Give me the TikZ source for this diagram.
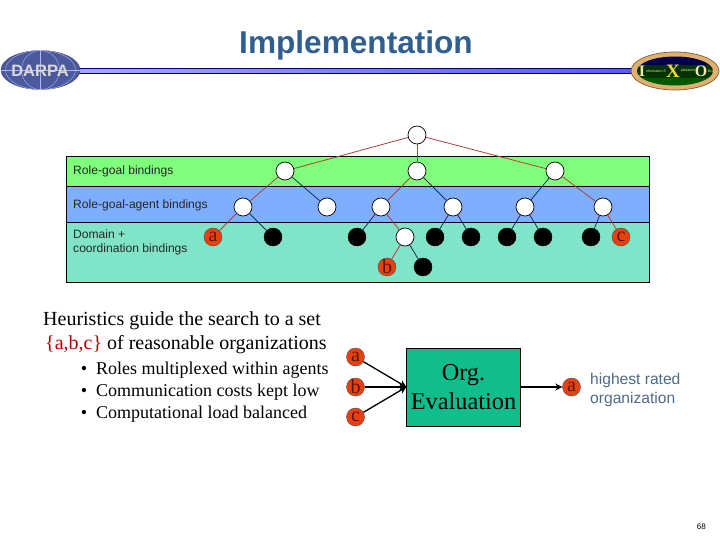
\documentclass[tikz,border=0pt]{standalone}
\usepackage{fontspec}
\setmainfont{Liberation Serif}
\newfontfamily\arialfont{Liberation Sans}
\usepackage{xcolor}
\usetikzlibrary{arrows.meta,positioning,shapes.geometric}
\definecolor{tlgreen}{HTML}{80FF7C}
\definecolor{tlblue}{HTML}{80AEFF}
\definecolor{tlteal}{HTML}{80E4C8}
\definecolor{tlred}{HTML}{E8410F}
\definecolor{tlletter}{HTML}{5A1606}
\definecolor{tledge}{HTML}{B0403A}
\definecolor{tlnavy}{HTML}{14305A}
\definecolor{tltitle}{HTML}{2F5F91}
\definecolor{tlslate}{HTML}{4F6B84}
\definecolor{tlbox}{HTML}{10BE8C}
\definecolor{tlglobe}{HTML}{4A5A9C}
\definecolor{tlring}{HTML}{E0B070}
\definecolor{tlcream}{HTML}{F2E6B0}
\tikzset{
  band/.style={rectangle, draw=black, line width=0.8pt, minimum width=582.5pt, inner sep=0pt, anchor=north west},
  bandlabel/.style={font=\arialfont\fontsize{12.1}{14}\selectfont, anchor=base west, inner sep=0pt, text=black!85},
  role/.style={circle, draw=black, fill=white, line width=0.7pt, minimum size=18pt, inner sep=0pt},
  leaf/.style={circle, draw=black, fill=black, minimum size=18pt, inner sep=0pt},
  org/.style={circle, draw=black!70, fill=tlred, minimum size=18pt, inner sep=0pt, text=tlletter,
              font=\fontsize{20}{20}\selectfont},
  redge/.style={draw=tledge, line width=0.8pt},
  bedge/.style={draw=tlnavy, line width=0.8pt},
  ar/.style={-{Stealth[length=7pt,width=7pt]}, draw=black, line width=1.3pt},
  say/.style={anchor=base west, inner sep=0pt, font=\fontsize{20}{22}\selectfont},
  point/.style={anchor=base west, inner sep=0pt, font=\fontsize{18}{20}\selectfont},
  ixobig/.style={inner sep=0pt, text=tlcream, font=\bfseries\fontsize{16}{16}\selectfont},
  ixosmall/.style={inner sep=0pt, text=tlcream, font=\arialfont\fontsize{3.5}{4}\selectfont},
}
\begin{document}
\begin{tikzpicture}[x=1pt,y=-1pt]
\useasboundingbox (0,0) rectangle (720,540);
% --- header
\node[anchor=base,inner sep=0pt,font=\arialfont\bfseries\fontsize{31.6}{34}\selectfont,text=tltitle] (title) at (356,54) {Implementation};
\node[rectangle,draw=blue!45!black,line width=1pt,left color=blue!35!white,right color=blue!65!white,
      minimum width=555pt,minimum height=5.5pt,inner sep=0pt] (rule) at (356,71) {};
% --- left logo
\node[ellipse,draw=tlglobe!70!black,fill=tlglobe,minimum width=79pt,minimum height=39pt,inner sep=0pt] (darpa) at (40.5,70) {};
\draw[white!70!blue,line width=0.4pt] (darpa.north) -- (darpa.south);
\draw[white!70!blue,line width=0.4pt] (darpa.center) ellipse (19 and 19.5);
\draw[white!70!blue,line width=0.4pt] (darpa.center) ellipse (35 and 19.5);
\draw[white!70!blue,line width=0.4pt] (darpa.west) -- (darpa.east);
\node[font=\arialfont\bfseries\fontsize{16.5}{18}\selectfont,text=black!15,inner sep=0pt] (darpatext) at (40,70.5) {DARPA};
% --- right logo
\node[ellipse,draw=brown!70!black,fill=tlring,line width=0.7pt,minimum width=88pt,minimum height=38pt,inner sep=0pt] (ixo) at (675,71) {};
\begin{scope}
\clip (675,71) ellipse (38 and 14.5);
\fill[blue!30!black] (630,55) rectangle (720,65);
\fill[black!80!green] (630,65) rectangle (720,78);
\fill[green!35!black] (630,78) rectangle (720,88);
\end{scope}
\node[ixobig] (ixoi) at (642,71) {I};
\node[ixosmall] (ixoa) at (656,71) {nformation E};
\node[ixobig,text=yellow!60!tlring,font=\bfseries\fontsize{19}{19}\selectfont] (ixox) at (673,71) {X};
\node[ixosmall] (ixob) at (688,71) {ploitation};
\node[ixobig] (ixoo) at (701,71) {O};
\node[ixosmall] (ixoc) at (711,71) {ffice};
% --- bands
\node[band,fill=tlteal,minimum height=60pt] (domain) at (66,222) {};
\node[band,fill=tlblue,minimum height=36pt] (agent) at (66,186) {};
\node[band,fill=tlgreen,minimum height=29.5pt] (goal) at (66,156.5) {};
\node[bandlabel] (goallabel) at (73,175) {Role-goal bindings};
\node[bandlabel] (agentlabel) at (73,208) {Role-goal-agent bindings};
\node[bandlabel] (domainlabel) at (73,238) {Domain +};
\node[bandlabel] (coordlabel) at (73,252) {coordination bindings};
% --- tree nodes
\node[role] (r) at (417,135) {};
\node[role] (g1) at (285,171) {};
\node[role] (g2) at (417,171) {};
\node[role] (g3) at (555,171) {};
\node[role] (s1) at (243,207) {};
\node[role] (s2) at (327,207) {};
\node[role] (s3) at (381,207) {};
\node[role] (s4) at (453,207) {};
\node[role] (s5) at (525,207) {};
\node[role] (s6) at (603,207) {};
\node[org] (ta) at (213,237) {a};
\node[leaf] (l1) at (273,237) {};
\node[leaf] (l2) at (357,237) {};
\node[role] (d1) at (405,237) {};
\node[leaf] (l3) at (435,237) {};
\node[leaf] (l4) at (471,237) {};
\node[leaf] (l5) at (507,237) {};
\node[leaf] (l6) at (543,237) {};
\node[leaf] (l7) at (591,237) {};
\node[org] (tc) at (621,237) {c};
\node[org] (tb) at (387,267) {b};
\node[leaf] (l8) at (423,267) {};
\draw[redge] (r)--(g1); \draw[redge] (r)--(g2); \draw[redge] (r)--(g3);
\draw[redge] (g1)--(s1); \draw[bedge] (g1)--(s2);
\draw[redge] (g2)--(s3); \draw[bedge] (g2)--(s4);
\draw[bedge] (g3)--(s5); \draw[redge] (g3)--(s6);
\draw[redge] (s1)--(ta); \draw[bedge] (s1)--(l1);
\draw[bedge] (s3)--(l2); \draw[redge] (s3)--(d1);
\draw[bedge] (s4)--(l3); \draw[bedge] (s4)--(l4);
\draw[bedge] (s5)--(l5); \draw[bedge] (s5)--(l6);
\draw[bedge] (s6)--(l7); \draw[redge] (s6)--(tc);
\draw[redge] (d1)--(tb); \draw[bedge] (d1)--(l8);
% --- text
\node[say] (h1) at (43,325) {Heuristics guide the search to a set};
\node[say] (h2) at (45,349) {\textcolor{red!70!black}{\{a,b,c\}} of reasonable organizations};
\node[point] (b1) at (96,374) {\makebox[0pt][r]{\textbullet\hspace{9pt}}Roles multiplexed within agents};
\node[point] (b2) at (96,396) {\makebox[0pt][r]{\textbullet\hspace{9pt}}Communication costs kept low};
\node[point] (b3) at (96,418) {\makebox[0pt][r]{\textbullet\hspace{9pt}}Computational load balanced};
% --- evaluation
\node[rectangle,draw=black,line width=0.8pt,fill=tlbox,minimum width=113.5pt,minimum height=78pt,inner sep=0pt,
      align=center,font=\fontsize{24.3}{29}\selectfont] (eval) at (463.5,387) {Org.\\Evaluation};
\node[org] (ia) at (355.5,357) {a};
\node[org] (ib) at (355.5,387) {b};
\node[org] (ic) at (355.5,417) {c};
\node[org] (oa) at (571.5,387) {a};
\draw[ar] (ia)--(eval.west); \draw[ar] (ib)--(eval.west); \draw[ar] (ic)--(eval.west);
\draw[ar] (eval)--(oa);
\node[anchor=base west,inner sep=0pt,align=left,text=tlslate,font=\arialfont\fontsize{15.6}{19}\selectfont] (best) at (590,403) {highest rated\\organization};
\node[anchor=base east,inner sep=0pt,font=\arialfont\fontsize{8}{9}\selectfont] (page) at (706,529) {68};
\end{tikzpicture}
\end{document}
